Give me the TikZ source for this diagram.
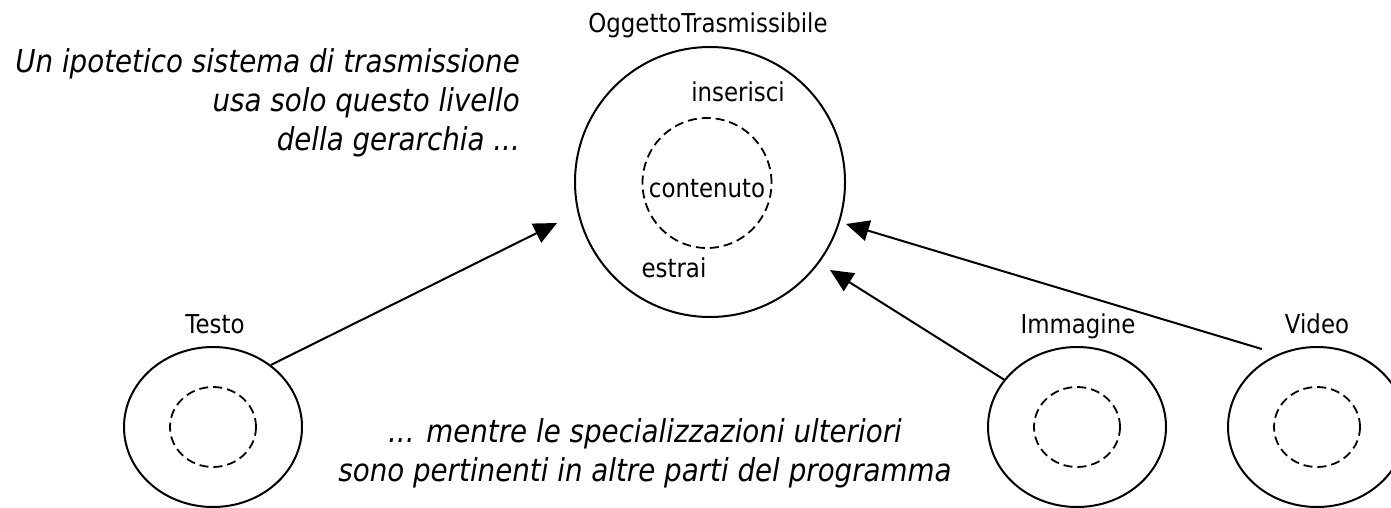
\documentclass[tikz,border=0pt]{standalone}
\usepackage{fontspec}
\setmainfont{DejaVu Sans}[FakeStretch=0.88]
\usetikzlibrary{arrows.meta,shapes.geometric}
\begin{document}
\begin{tikzpicture}[x=1pt,y=-1pt,
  ring/.style={draw, line width=2pt, inner sep=0pt},
  bigring/.style={ring, circle, minimum size=270pt},
  objring/.style={ring, ellipse, minimum width=178pt, minimum height=160pt},
  dashring/.style={draw, dash pattern=on 9pt off 5pt, line width=1.8pt, ellipse, inner sep=0pt},
  lbl/.style={font=\fontsize{26}{30}\selectfont, inner sep=0pt, anchor=base},
  note/.style={font=\fontsize{31.5}{39}\selectfont\itshape, inner sep=0pt},
  arr/.style={line width=2pt, -{Triangle[length=23pt,width=21pt]}}
]
\useasboundingbox (0,0) rectangle (1391,508);
% main object
\node[bigring] (ogg) at (710,182) {};
\node[dashring, minimum width=129pt, minimum height=130pt] (oggin) at (707,183) {};
\node[lbl] (oggl) at (708,33) {OggettoTrasmissibile};
\node[lbl] (ins) at (738,102) {inserisci};
\node[lbl] (cont) at (707,197) {contenuto};
\node[lbl] (estr) at (674,277) {estrai};
% specialisations
\node[objring] (testo) at (213,427) {};
\node[dashring, minimum width=86pt, minimum height=80pt] (testoin) at (213,427) {};
\node[lbl] (testol) at (215,333) {Testo};
\node[objring] (imm) at (1077,427) {};
\node[dashring, minimum width=86pt, minimum height=80pt] (immin) at (1077,427) {};
\node[lbl] (imml) at (1078,333) {Immagine};
\node[objring] (video) at (1317,427) {};
\node[dashring, minimum width=86pt, minimum height=80pt] (videoin) at (1317,427) {};
\node[lbl] (videol) at (1317,333) {Video};
% notes
\node[note, align=right, anchor=north east] (n1) at (520,48)
  {Un ipotetico sistema di trasmissione\\usa solo questo livello\\della gerarchia ...};
\node[note, align=center, anchor=north] (n2) at (645,418)
  {... mentre le specializzazioni ulteriori\\sono pertinenti in altre parti del programma};
% arrows
\coordinate (tipT) at (557,223);
\coordinate (tipI) at (830,270);
\coordinate (tipV) at (846,224);
\draw[arr] (testo.47) -- (tipT);
\draw[arr] (imm.147) -- (tipI);
\draw[arr, shorten <=17pt] (video.118) -- (tipV);
\end{tikzpicture}
\end{document}
